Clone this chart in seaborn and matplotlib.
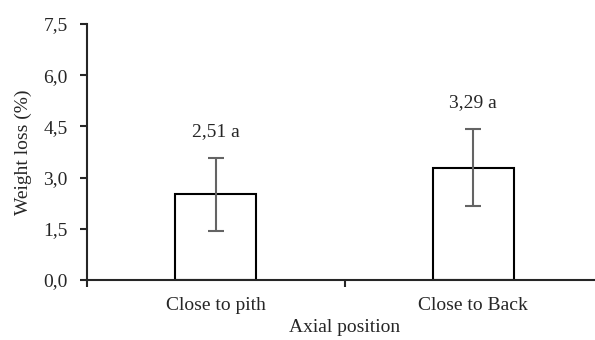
import numpy as np
import pandas as pd
import seaborn as sns
from matplotlib import pyplot as plt
from matplotlib.ticker import FuncFormatter

positions = ['Close to pith', 'Close to Back']
weight_loss = [2.51, 3.29]
sd = [1.06, 1.13]
labels = ['2,51 a', '3,29 a']
yticks = [0, 1.5, 3.0, 4.5, 6.0, 7.5]

df = pd.DataFrame({'pos': positions, 'loss': weight_loss})

sns.set_style('ticks')
plt.rcParams['font.family'] = ['Liberation Serif', 'DejaVu Serif']
fs = 14

fig = plt.figure(figsize=(5.95, 3.4), dpi=100)
ax = fig.add_axes([87/595, 60/340, 515/595, 256/340])

sns.barplot(data=df, x='pos', y='loss', color='white', edgecolor='black',
            linewidth=1.5, width=0.315, errorbar=None, ax=ax)
ax.errorbar(range(len(positions)), weight_loss, yerr=sd, fmt='none',
            ecolor='#646464', elinewidth=1.5, capsize=6, capthick=1.5)
for i, t in enumerate(labels):
    ax.text(i, weight_loss[i] + sd[i] + 0.78, t, ha='center', va='center', fontsize=fs)

ax.set_xlim(-0.5, 1.5)
ax.set_ylim(0, 7.5)
ax.set_yticks(yticks)
ax.yaxis.set_major_formatter(FuncFormatter(lambda v, p: f'{v:.1f}'.replace('.', ',')))
ax.set_xticks([0, 1])
ax.set_xticklabels(positions)
ax.set_xticks([-0.5, 0.5, 1.5], minor=True)
ax.tick_params(axis='x', which='major', length=0, pad=12, labelsize=fs)
ax.tick_params(axis='x', which='minor', length=5, width=1.5, direction='out')
ax.tick_params(axis='y', length=5, width=1.5, direction='out', labelsize=fs, pad=9)
sns.despine(ax=ax)
for s in ['left', 'bottom']:
    ax.spines[s].set_linewidth(1.5)
ax.set_xlabel('Axial position', fontsize=fs, labelpad=4)
ax.set_ylabel('Weight loss (%)', fontsize=fs, labelpad=8)

fig.savefig('out.png', dpi=100)
